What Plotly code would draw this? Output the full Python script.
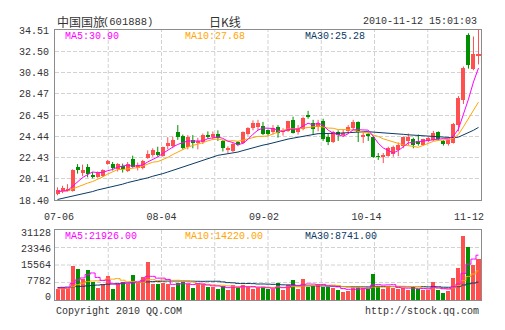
import numpy as np
import pandas as pd
import plotly.graph_objects as go

# ---------------- data ----------------
date_labels = ["07-06", "08-04", "09-02", "10-14", "11-12"]
price_ticks = [18.40, 20.41, 22.43, 24.44, 26.45, 28.47, 30.48, 32.50, 34.51]
vol_ticks = [0, 7782, 15564, 23346, 31128]

opens = [18.95, 19.25, 19.3, 19.3, 21.5, 20.95, 21.5, 20.8, 20.57, 20.65,
         21.85, 21.78, 21.35, 21.62, 21.15, 22.26, 21.45, 21.4, 22.42, 22.65,
         22.95, 22.6, 23.5, 23.5, 24.86, 24.45, 23.4, 24.07, 23.85, 23.9,
         24.55, 24.35, 24.7, 24.0, 23.18, 23.05, 23.85, 23.8, 24.7, 25.2,
         25.3, 25.4, 25.0, 24.8, 25.28, 24.9, 24.95, 25.95, 24.8, 25.1,
         26.45, 25.65, 25.3, 25.9, 24.4, 23.9, 24.85, 24.55, 24.9, 25.2,
         25.8, 24.4, 24.55, 24.38, 22.55, 22.55, 22.6, 22.8, 23.15, 23.5,
         24.0, 24.15, 23.95, 23.65, 23.95, 24.1, 24.8, 24.0, 23.72, 23.8,
         25.55, 27.9, 34.05, 30.8, 32.1]
highs = [19.6, 19.75, 19.9, 21.3, 21.8, 21.75, 21.8, 21.05, 21.1, 21.3,
         22.2, 22.0, 21.9, 21.85, 22.0, 22.6, 21.95, 22.2, 23.1, 23.3,
         23.45, 23.45, 24.35, 24.4, 25.5, 24.6, 24.55, 24.55, 24.3, 24.7,
         24.9, 24.9, 25.0, 24.1, 23.5, 23.8, 24.0, 24.9, 25.3, 25.95,
         26.0, 25.8, 25.1, 25.5, 25.5, 25.2, 25.9, 26.3, 25.5, 26.3,
         26.85, 26.0, 26.0, 26.1, 24.65, 24.95, 25.0, 25.1, 25.5, 26.0,
         25.85, 24.85, 24.8, 24.5, 22.85, 22.85, 23.45, 23.55, 23.85, 24.4,
         24.7, 24.3, 24.6, 24.2, 24.35, 24.95, 24.9, 24.1, 24.1, 25.7,
         28.25, 31.05, 34.2, 33.9, 34.51]
lows = [18.85, 19.05, 19.2, 19.2, 20.9, 20.65, 20.55, 20.45, 20.5, 20.6,
        21.75, 21.2, 21.1, 21.0, 21.05, 21.45, 21.2, 21.3, 22.3, 22.5,
        22.5, 22.5, 23.2, 23.3, 24.1, 23.2, 23.2, 23.3, 23.2, 23.7,
        24.2, 24.15, 24.0, 23.0, 22.85, 22.95, 23.5, 23.7, 24.5, 25.0,
        25.0, 24.55, 24.5, 24.6, 24.3, 24.5, 24.85, 24.7, 24.6, 25.0,
        26.1, 24.6, 24.9, 24.0, 23.6, 23.8, 24.0, 24.4, 24.7, 25.0,
        23.9, 23.8, 24.0, 22.4, 22.2, 21.9, 22.5, 22.5, 22.55, 23.3,
        23.6, 23.3, 23.55, 23.55, 23.9, 24.0, 24.05, 23.55, 23.55, 23.75,
        24.9, 27.5, 30.85, 30.7, 31.25]
closes = [19.35, 19.5, 19.4, 21.25, 21.2, 21.28, 20.9, 20.65, 20.95, 21.28,
          22.1, 21.47, 21.8, 21.3, 21.85, 21.55, 21.75, 22.1, 22.8, 23.1,
          22.65, 23.4, 23.8, 24.1, 24.39, 23.3, 24.4, 23.76, 23.95, 24.55,
          24.4, 24.7, 24.25, 23.3, 23.22, 23.75, 23.7, 24.85, 25.2, 25.65,
          25.7, 24.7, 24.65, 25.2, 24.77, 25.0, 25.85, 24.75, 25.25, 26.2,
          26.3, 25.1, 25.65, 24.15, 23.9, 24.85, 24.55, 24.75, 25.35, 25.8,
          24.85, 24.6, 24.5, 22.45, 22.5, 22.6, 23.35, 23.4, 23.6, 24.35,
          24.35, 23.65, 23.7, 24.15, 24.3, 24.75, 24.2, 23.7, 24.05, 25.6,
          28.05, 30.9, 31.2, 32.2, 32.15]
volumes = [5370, 6200, 5400, 16660, 15200, 10500, 14700, 9000, 5800, 7800,
           11500, 5600, 7800, 8800, 7800, 12000, 8200, 11200, 18700, 7800,
           7600, 8200, 8000, 6600, 8200, 9000, 8000, 6000, 8500, 7600,
           6500, 6200, 5500, 7000, 5000, 7500, 6000, 7200, 6600, 5600,
           6000, 6200, 5500, 5400, 8100, 4900, 7300, 9700, 5400, 10200,
           6600, 7000, 8000, 6400, 6600, 6000, 5000, 4000, 4500, 6500,
           6500, 6000, 5500, 12500, 7000, 5500, 6500, 6000, 5500, 6000,
           5000, 6500, 5500, 5000, 5030, 9000, 5000, 3500, 4500, 10570,
           15500, 31128, 26000, 16900, 20102]

# moving-average values at the start of the window
ma5_head = [19.2, 19.25, 19.3, 19.7]
ma10_head = [19.2, 19.22, 19.25, 19.45, 19.65, 19.85, 20.0, 20.15, 20.35]
ma30_head = [18.45, 18.55, 18.65, 18.75, 18.88, 19.0, 19.1, 19.2, 19.35, 19.45,
             19.6, 19.7, 19.8, 19.9, 20.05, 20.15, 20.3, 20.4, 20.5, 20.65,
             20.75, 20.9, 21.05, 21.2, 21.35, 21.5, 21.65, 21.8, 21.95]
vma5_head = [5800, 5900, 5900, 8000]
vma10_head = [5400, 5500, 5600, 6500, 7500, 8200, 9000, 9300, 9400]
vma30_head = [6100, 6200, 6300, 6400, 6550, 6700, 6900, 7100, 7300, 7500,
              7700, 7850, 8000, 8150, 8300, 8450, 8600, 8700, 8850, 9000,
              9100, 9200, 9250, 9300, 9300, 9300, 9250, 9200, 9150]

# ---------------- derived ----------------
n = len(closes)
idx = list(range(n))


def moving_average(values, window, head):
    s = pd.Series(values, dtype=float).rolling(window).mean()
    s.iloc[:window - 1] = head
    return s.tolist()


ma5 = moving_average(closes, 5, ma5_head)
ma10 = moving_average(closes, 10, ma10_head)
ma30 = moving_average(closes, 30, ma30_head)
vma5 = moving_average(volumes, 5, vma5_head)
vma10 = moving_average(volumes, 10, vma10_head)
vma30 = moving_average(volumes, 30, vma30_head)

RED = "#FF5050"
GREEN = "#008F00"
C_MA5 = "#FF00FF"
C_MA10 = "#FFA500"
C_MA30 = "#0B3A66"
GRID = "#D2D2D2"
FRAME = "#8C8C8C"
TEXT = "#333333"
MONO = "Liberation Mono, DejaVu Sans Mono, monospace"
CJK = "Noto Sans CJK SC, sans-serif"

up = [c >= o for o, c in zip(opens, closes)]
colors = [RED if u else GREEN for u in up]
body_base = [min(o, c) for o, c in zip(opens, closes)]
body_h = [max(abs(c - o), 0.07) for o, c in zip(opens, closes)]

fig = go.Figure()

# candle bodies
fig.add_trace(go.Bar(x=idx, y=body_h, base=body_base, width=0.8,
                     marker=dict(color=colors, line=dict(width=0)),
                     xaxis="x", yaxis="y", hoverinfo="skip"))

# wicks
for col, flag in ((RED, True), (GREEN, False)):
    wx, wy = [], []
    for i in idx:
        if up[i] == flag:
            wx += [i, i, None]
            wy += [lows[i], highs[i], None]
    fig.add_trace(go.Scatter(x=wx, y=wy, mode="lines",
                             line=dict(color=col, width=1),
                             xaxis="x", yaxis="y", hoverinfo="skip"))

# price moving averages
for vals, col in ((ma30, C_MA30), (ma10, C_MA10), (ma5, C_MA5)):
    fig.add_trace(go.Scatter(x=idx, y=vals, mode="lines",
                             line=dict(color=col, width=1),
                             xaxis="x", yaxis="y", hoverinfo="skip"))

# volume bars
fig.add_trace(go.Bar(x=idx, y=volumes, width=0.8,
                     marker=dict(color=colors, line=dict(width=0)),
                     xaxis="x2", yaxis="y2", hoverinfo="skip"))

for vals, col in ((vma30, C_MA30), (vma10, C_MA10), (vma5, C_MA5)):
    fig.add_trace(go.Scatter(x=idx, y=vals, mode="lines",
                             line=dict(color=col, width=1, shape="hvh"),
                             xaxis="x2", yaxis="y2", hoverinfo="skip"))

# ---------------- layout ----------------
W, H = 505, 330
ML, MR, MT, MB = 55, 24, 30, 30
PW, PH = W - ML - MR, H - MT - MB


def px2x(px):
    return (px - ML) / PW


def px2y(py):
    return (H - MB - py) / PH


main_dom = [px2y(200), 1.0]
vol_dom = [0.0, px2y(230)]

tick_pos = list(np.linspace(0.3, n - 2.9, len(date_labels)))

axis_common = dict(showline=True, mirror=True, linecolor=FRAME, linewidth=1,
                   zeroline=False, fixedrange=True)

fig.update_layout(
    width=W, height=H,
    margin=dict(l=ML, r=MR, t=MT, b=MB, pad=0),
    paper_bgcolor="white", plot_bgcolor="white",
    showlegend=False, barmode="overlay", bargap=0,
    xaxis=dict(domain=[0, 1], anchor="y", range=[-0.5, n - 0.5],
               tickvals=tick_pos, ticktext=date_labels,
               ticks="outside", ticklen=7, tickcolor="rgba(0,0,0,0)",
               tickfont=dict(family=MONO, size=10, color=TEXT),
               showgrid=False, **axis_common),
    xaxis2=dict(domain=[0, 1], anchor="y2", matches="x", range=[-0.5, n - 0.5],
                showticklabels=False, showgrid=False, **axis_common),
    yaxis=dict(domain=main_dom, anchor="x", range=[price_ticks[0], price_ticks[-1]],
               tickvals=price_ticks, ticktext=[f"{v:.2f}" for v in price_ticks],
               ticks="outside", ticklen=3, tickcolor="rgba(0,0,0,0)",
               tickfont=dict(family=MONO, size=10, color=TEXT),
               showgrid=True, gridcolor=GRID, griddash="4px,2px", gridwidth=1,
               **axis_common),
    yaxis2=dict(domain=vol_dom, anchor="x2", range=[0, max(volumes) * 1.1],
                showticklabels=False, showgrid=False, **axis_common),
)

shapes = []
grid_line = dict(color=GRID, width=1, dash="4px,2px")
for k in range(1, 8):
    for yr in ("y domain", "y2 domain"):
        shapes.append(dict(type="line", xref="paper", yref=yr,
                           x0=k / 8, x1=k / 8, y0=0, y1=1,
                           line=grid_line, layer="below"))
for k in range(1, 4):
    shapes.append(dict(type="line", xref="paper", yref="y2 domain",
                       x0=0, x1=1, y0=k / 4, y1=k / 4,
                       line=grid_line, layer="below"))
fig.update_layout(shapes=shapes)

# volume axis labels (sit ~3px above their value in the reference)
for v in vol_ticks:
    fig.add_annotation(text=str(v), x=px2x(52.5), xref="paper", y=v, yref="y2",
                       xanchor="right", yanchor="middle", yshift=3, showarrow=False,
                       font=dict(family=MONO, size=10, color=TEXT))


def note(text, px, py, anchor="left", color=TEXT, family=MONO, size=10):
    fig.add_annotation(text=text, x=px2x(px), y=px2y(py), xref="paper", yref="paper",
                       xanchor=anchor, yanchor="middle", showarrow=False,
                       font=dict(family=family, size=size, color=color))


note("中国国旅", 55, 21.5, family=CJK, size=12)
note("(601888)", 101, 21.5, size=10.5)
note("日K线", 225, 21.5, anchor="center", family=CJK, size=12)
note("2010-11-12 15:01:03", 479, 22, anchor="right")

note(f"MA5:{ma5[-1]:.2f}", 63, 36.5, color=C_MA5)
note(f"MA10:{ma10[-1]:.2f}", 183, 36.5, color=C_MA10)
note(f"MA30:{ma30[-1]:.2f}", 303, 36.5, color=C_MA30)

note(f"MA5:{vma5[-1]:.2f}", 63, 237, color=C_MA5)
note(f"MA10:{vma10[-1]:.2f}", 183, 237, color=C_MA10)
note(f"MA30:{vma30[-1]:.2f}", 303, 237, color=C_MA30)

note("Copyright 2010 QQ.COM", 54, 311.5)
note("http://stock.qq.com", 481, 311.5, anchor="right")

fig.write_html("out.html")
